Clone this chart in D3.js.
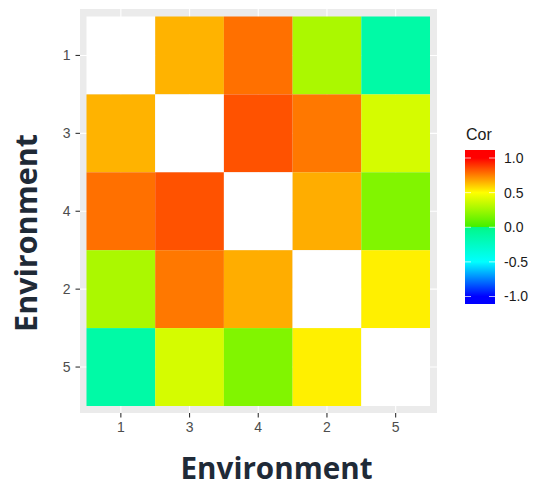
<!DOCTYPE html>
<html>
<head>
<meta charset="utf-8">
<script src="https://cdn.jsdelivr.net/npm/d3@7"></script>
<style>
  body { margin: 0; background: #fff; }
</style>
</head>
<body>
<div id="chart"></div>
<script>
// environments in plotted order
const envs = ["1", "3", "4", "2", "5"];

// correlation matrix rows (null = diagonal, drawn white)
const row1 = [null, 0.65, 0.78, 0.28, -0.12];
const row3 = [0.65, null, 0.84, 0.765, 0.39];
const row4 = [0.78, 0.84, null, 0.66, 0.17];
const row2 = [0.28, 0.765, 0.66, null, 0.53];
const row5 = [-0.12, 0.39, 0.17, 0.53, null];
const rows = [row1, row3, row4, row2, row5];

const legendTicks = [1.0, 0.5, 0.0, -0.5, -1.0];

const width = 534, height = 484;

const svg = d3.select("#chart")
  .append("svg")
  .attr("width", width)
  .attr("height", height)
  .style("font-family", "'Liberation Sans', Arial, sans-serif");

// colour scale, with a jump at zero like the original legend
const colorDomain = [-1, -0.5, 0, 0, 0.5, 1];
const colorRange = ["#0000ff", "#00ffff", "#00f88a", "#40f000", "#ffff00", "#ff0000"];
const color = d3.scaleLinear().domain(colorDomain).range(colorRange).clamp(true);

// panel
const panel = { left: 80, right: 437, top: 9, bottom: 413 };

const x = d3.scaleBand().domain(envs).range([86.5, 430]).padding(0);
const y = d3.scaleBand().domain(envs).range([16.5, 406]).padding(0);

svg.append("rect")
  .attr("x", panel.left)
  .attr("y", panel.top)
  .attr("width", panel.right - panel.left)
  .attr("height", panel.bottom - panel.top)
  .attr("fill", "#ebebeb");

// grid lines
svg.selectAll("line.vgrid")
  .data(envs)
  .enter()
  .append("line")
  .attr("class", "vgrid")
  .attr("x1", d => x(d) + x.bandwidth() / 2)
  .attr("x2", d => x(d) + x.bandwidth() / 2)
  .attr("y1", panel.top)
  .attr("y2", panel.bottom)
  .attr("stroke", "#fff")
  .attr("stroke-width", 1.1);

svg.selectAll("line.hgrid")
  .data(envs)
  .enter()
  .append("line")
  .attr("class", "hgrid")
  .attr("y1", d => y(d) + y.bandwidth() / 2)
  .attr("y2", d => y(d) + y.bandwidth() / 2)
  .attr("x1", panel.left)
  .attr("x2", panel.right)
  .attr("stroke", "#fff")
  .attr("stroke-width", 1.1);

// tiles
const cells = [];
rows.forEach((r, i) => {
  r.forEach((v, j) => {
    cells.push({ row: envs[i], col: envs[j], value: v });
  });
});

svg.selectAll("rect.tile")
  .data(cells)
  .enter()
  .append("rect")
  .attr("class", "tile")
  .attr("x", d => x(d.col))
  .attr("y", d => y(d.row))
  .attr("width", x.bandwidth())
  .attr("height", y.bandwidth())
  .attr("fill", d => d.value === null ? "#ffffff" : color(d.value));

// axes
const yAxis = svg.append("g")
  .attr("transform", `translate(${panel.left},0)`)
  .call(d3.axisLeft(y).tickSize(4.5).tickPadding(5));

const xAxis = svg.append("g")
  .attr("transform", `translate(0,${panel.bottom})`)
  .call(d3.axisBottom(x).tickSize(4.5).tickPadding(5));

[xAxis, yAxis].forEach(g => {
  g.select(".domain").remove();
  g.selectAll(".tick line").attr("stroke", "#333").attr("stroke-width", 1.1);
  g.selectAll(".tick text")
    .attr("fill", "#4d4d4d")
    .style("font-size", "14px")
    .style("font-family", "'Liberation Sans', Arial, sans-serif");
});

// axis titles, sized to the measured width
function addTitle(tx, ty, rotate, targetWidth) {
  const t = svg.append("text")
    .attr("text-anchor", "middle")
    .attr("fill", "#1f2a37")
    .style("font-family", "'Open Sans', sans-serif")
    .style("font-weight", "700")
    .style("font-size", "100px")
    .text("Environment");
  const len = t.node().getComputedTextLength();
  t.style("font-size", (100 * targetWidth / len) + "px");
  t.attr("transform", `translate(${tx},${ty}) rotate(${rotate})`);
}
addTitle(276.5, 479, 0, 192);
addTitle(37, 233, -90, 198);

// legend
const legTop = 150, legBottom = 304, legLeft = 465, legWidth = 30;
const legScale = d3.scaleLinear().domain([-1, 1]).range([296.5, 158]);

const defs = svg.append("defs");
const grad = defs.append("linearGradient")
  .attr("id", "corGrad")
  .attr("gradientUnits", "userSpaceOnUse")
  .attr("x1", 0).attr("x2", 0)
  .attr("y1", legTop).attr("y2", legBottom);

// gradient stops taken from the same colour scale, top to bottom
const stopVals = [1, 0.5, 0.001, -0.001, -0.5, -1];
grad.append("stop").attr("offset", 0).attr("stop-color", color(1));
stopVals.forEach(v => {
  grad.append("stop")
    .attr("offset", (legScale(v) - legTop) / (legBottom - legTop))
    .attr("stop-color", color(v));
});
grad.append("stop").attr("offset", 1).attr("stop-color", color(-1));

svg.append("rect")
  .attr("x", legLeft)
  .attr("y", legTop)
  .attr("width", legWidth)
  .attr("height", legBottom - legTop)
  .attr("fill", "url(#corGrad)");

legendTicks.forEach(v => {
  const ty = legScale(v);
  svg.append("line")
    .attr("x1", legLeft).attr("x2", legLeft + 6)
    .attr("y1", ty).attr("y2", ty)
    .attr("stroke", "#fff").attr("stroke-opacity", 0.7).attr("stroke-width", 1);
  svg.append("line")
    .attr("x1", legLeft + legWidth - 6).attr("x2", legLeft + legWidth)
    .attr("y1", ty).attr("y2", ty)
    .attr("stroke", "#fff").attr("stroke-opacity", 0.7).attr("stroke-width", 1);
  svg.append("text")
    .attr("x", 504)
    .attr("y", ty)
    .attr("dy", "0.35em")
    .attr("fill", "#1a1a1a")
    .style("font-size", "14px")
    .text(d3.format(".1f")(v).replace("−", "-"));
});

svg.append("text")
  .attr("x", 466)
  .attr("y", 140)
  .attr("fill", "#1a1a1a")
  .style("font-size", "16px")
  .text("Cor");
</script>
</body>
</html>
